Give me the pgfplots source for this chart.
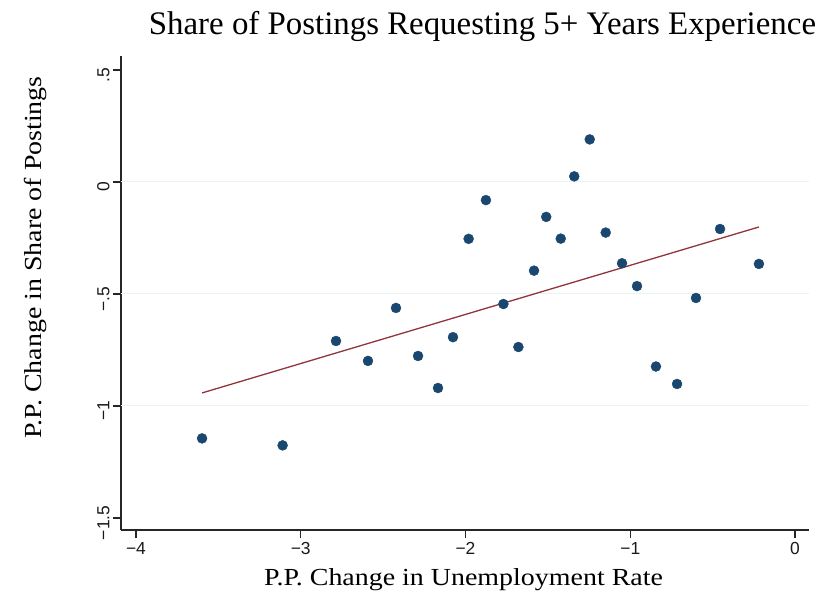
\documentclass[border=0pt]{standalone}
\usepackage{fontspec}
\setmainfont{Liberation Serif}
\newfontfamily\labelfont[FakeStretch=1.14]{Liberation Serif}
\newfontfamily\tickfont{Liberation Sans}
\usepackage{pgfplots}
\pgfplotsset{compat=1.18}
\definecolor{navy}{HTML}{1A476F}
\definecolor{maroon}{HTML}{90353B}
\definecolor{gridc}{HTML}{EAF2F3}
\begin{document}
\begin{tikzpicture}[x=1bp,y=1bp]
\path[use as bounding box] (0,0) rectangle (837,596);
\begin{axis}[
  at={(121bp,66bp)}, anchor=south west,
  scale only axis, width=688bp, height=474bp,
  xmin=-4.091, xmax=0.085, ymin=-1.554, ymax=0.5625,
  axis x line*=bottom, axis y line*=left,
  axis line style={line width=1.3bp, black!85},
  tick align=outside, major tick length=8bp,
  every tick/.style={line width=1.3bp, black!85},
  xtick={-4,-3,-2,-1,0},
  xticklabels={−4,−3,−2,−1,0},
  ytick={-1.5,-1,-0.5,0,0.5},
  yticklabels={−1.5,−1,−.5,0,.5},
  ticklabel style={font=\tickfont\fontsize{17.5}{18}\selectfont, black!90},
  yticklabel style={rotate=90, anchor=south, xshift=-5bp},
  xticklabel style={yshift=-1bp},
  clip=false,
]
\addplot[gridc, line width=1bp, forget plot] coordinates {(-4.091,0) (0.085,0)};
\addplot[gridc, line width=1bp, forget plot] coordinates {(-4.091,-0.5) (0.085,-0.5)};
\addplot[gridc, line width=1bp, forget plot] coordinates {(-4.091,-1) (0.085,-1)};
\addplot[only marks, mark=*, mark size=5bp, mark options={fill=navy, draw=navy}] table {
x y
-3.599 -1.145
-3.110 -1.176
-2.786 -0.710
-2.592 -0.799
-2.422 -0.5625
-2.288 -0.777
-2.167 -0.920
-2.076 -0.693
-1.981 -0.254
-1.876 -0.081
-1.770 -0.545
-1.679 -0.737
-1.584 -0.396
-1.510 -0.156
-1.422 -0.253
-1.340 0.025
-1.246 0.190
-1.149 -0.226
-1.050 -0.363
-0.959 -0.465
-0.844 -0.824
-0.716 -0.902
-0.601 -0.518
-0.455 -0.210
-0.219 -0.366
};
\addplot[maroon, line width=1.3bp] coordinates {(-3.599,-0.942) (-0.219,-0.201)};
\end{axis}
\node[anchor=base, font=\fontsize{33}{36}\selectfont] at (482.5,561.7) {Share of Postings Requesting 5+ Years Experience};
\node[anchor=base, font=\labelfont\fontsize{24.6}{28}\selectfont] at (463.5,10.3) {P.P. Change in Unemployment Rate};
\node[anchor=base, rotate=90, font=\labelfont\fontsize{24.6}{28}\selectfont] at (41,338.5) {P.P. Change in Share of Postings};
\end{tikzpicture}
\end{document}
